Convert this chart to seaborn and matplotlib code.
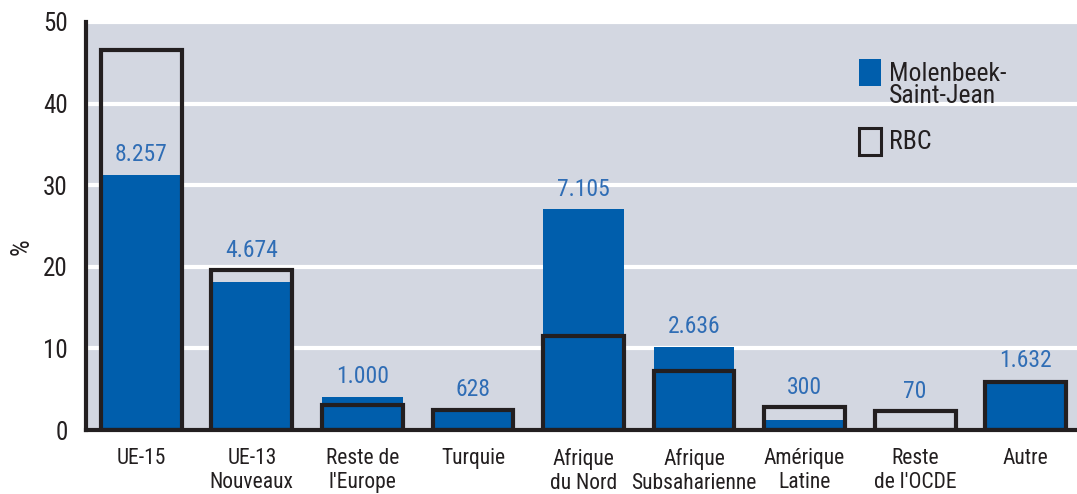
import matplotlib
matplotlib.use("Agg")
import matplotlib.pyplot as plt
import seaborn as sns
import pandas as pd
from matplotlib.patches import Patch, Rectangle
from matplotlib.legend_handler import HandlerPatch
from matplotlib import font_manager

categories = ["UE-15", "UE-13\nNouveaux", "Reste de\nl'Europe", "Turquie", "Afrique\ndu Nord",
              "Afrique\nSubsaharienne", "Amérique\nLatine", "Reste\nde l'OCDE", "Autre"]
molenbeek_pct = [31.3, 18.1, 4.1, 2.4, 27.1, 10.2, 1.2, 0.3, 6.1]
rbc_pct = [46.6, 19.6, 3.1, 2.5, 11.5, 7.25, 2.8, 2.3, 5.9]
molenbeek_counts = ["8.257", "4.674", "1.000", "628", "7.105", "2.636", "300", "70", "1.632"]
yticks = [0, 10, 20, 30, 40, 50]

BLUE = "#005EAC"
LBLUE = "#2F6DB5"
BG = "#D3D7E1"
DARK = "#231F20"

sns.set_style("white")
names = set(f.name for f in font_manager.fontManager.ttflist)
fam = "DejaVu Sans"
for cand in ["Roboto Condensed", "Liberation Sans Narrow", "Open Sans Condensed", "Roboto", "Liberation Sans"]:
    if cand in names:
        fam = cand
        break
plt.rcParams["font.family"] = [fam, "DejaVu Sans"]

df = pd.DataFrame({"cat": categories, "mol": molenbeek_pct, "rbc": rbc_pct})

fig = plt.figure(figsize=(10.77, 4.94), dpi=100)
ax = fig.add_axes([86 / 1077, 1 - 430 / 494, 995 / 1077, 408 / 494])
ax.set_facecolor(BG)

sns.barplot(data=df, x="cat", y="mol", color=BLUE, width=0.73, ax=ax,
            saturation=1, linewidth=0, zorder=3)
sns.barplot(data=df, x="cat", y="rbc", width=0.73, ax=ax, fill=False,
            color=DARK, linewidth=3, zorder=4)
for p in ax.patches[len(categories):]:
    p.set_edgecolor(DARK)
    p.set_facecolor("none")

ax.set_ylim(0, 50)
ax.set_xlim(-0.5, 8.5)
ax.set_yticks(yticks)
ax.yaxis.grid(True, color="white", linewidth=3, zorder=1)
ax.set_axisbelow(True)

for i, (m, r, lab) in enumerate(zip(molenbeek_pct, rbc_pct, molenbeek_counts)):
    top = m if r - m > 10 else max(m, r)
    ax.annotate(lab, (i, top), xytext=(0, 6), textcoords="offset points",
                ha="center", va="bottom", color=LBLUE, fontsize=17, zorder=5)

for s in ["top", "right"]:
    ax.spines[s].set_visible(False)
for s in ["left", "bottom"]:
    ax.spines[s].set_linewidth(3)
    ax.spines[s].set_color(DARK)
    ax.spines[s].set_zorder(6)

ax.set_xlabel("")
ax.set_ylabel("%", fontsize=19, color=DARK)
ax.yaxis.set_label_coords(-0.053, 0.45)
ax.tick_params(axis="y", length=5, width=3, color=DARK, labelsize=18, labelcolor=DARK, pad=8)
ax.tick_params(axis="x", which="major", length=0, labelsize=15.5, labelcolor=DARK, pad=13)
for t in ax.get_xticklabels():
    t.set_linespacing(1.2)
ax.set_xticks([i + 0.5 for i in range(len(categories) - 1)], minor=True)
ax.tick_params(axis="x", which="minor", length=5, width=3, color=DARK)


def make_box(dy):
    def f(legend, orig_handle, xdescent, ydescent, width, height, fontsize):
        w, h = 15.5, 19.5
        return Rectangle((-xdescent, -ydescent + (height - h) / 2 + dy), w, h)
    return f


handles = [Patch(facecolor=BLUE, edgecolor="none"),
           Patch(facecolor="none", edgecolor=DARK, linewidth=2.2)]
leg = ax.legend(handles, ["Molenbeek-\nSaint-Jean", "RBC"], loc="upper left",
                bbox_to_anchor=(859 / 1077, 1 - 62 / 494), bbox_transform=fig.transFigure,
                frameon=False, fontsize=18.5, handlelength=0.85, handleheight=1.0,
                handletextpad=0.3, labelspacing=0.8, borderpad=0, borderaxespad=0,
                handler_map={handles[0]: HandlerPatch(patch_func=make_box(9.5)),
                             handles[1]: HandlerPatch(patch_func=make_box(-1.0))})
for t in leg.get_texts():
    t.set_color(DARK)
    t.set_linespacing(0.9)

fig.savefig("out.png", dpi=100)
